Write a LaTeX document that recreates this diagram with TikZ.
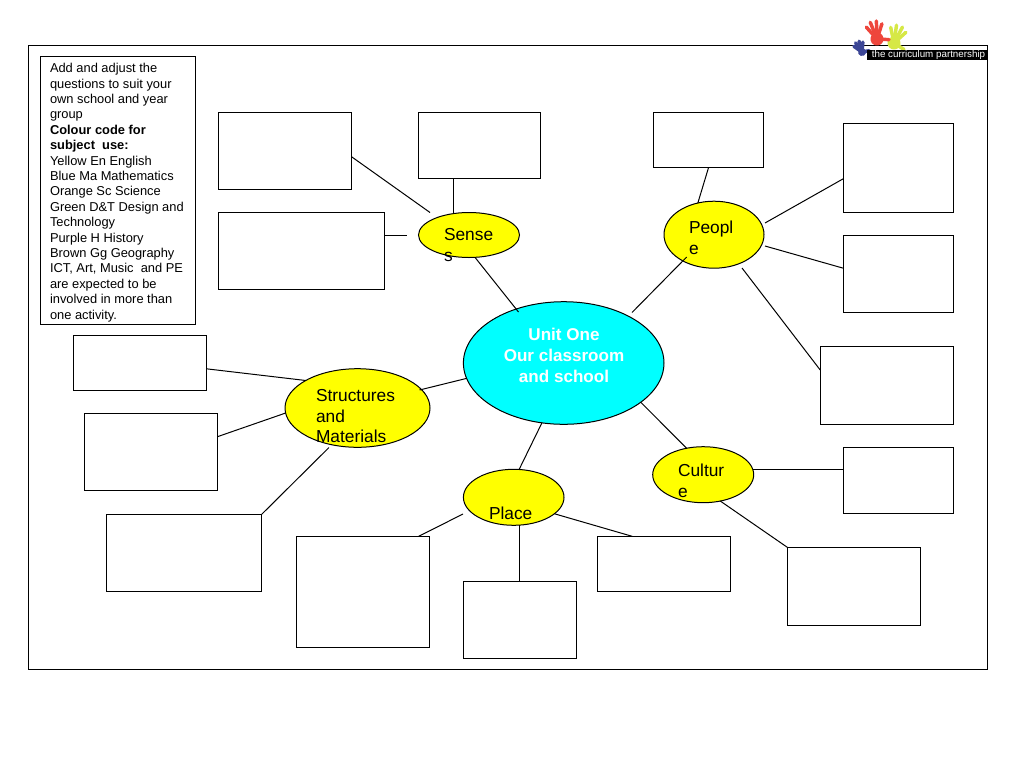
\documentclass[tikz,border=0pt]{standalone}
\usepackage{fontspec}
\setmainfont{Liberation Sans}
\usetikzlibrary{shapes.geometric}
\definecolor{topicyellow}{RGB}{255,255,0}
\definecolor{hubcyan}{RGB}{0,255,255}
\definecolor{handred}{RGB}{238,70,60}
\definecolor{handyellow}{RGB}{214,232,70}
\definecolor{handblue}{RGB}{60,70,150}
\tikzset{
  blank/.style 2 args={draw=black,line width=.75pt,fill=white,rectangle,inner sep=0pt,outer sep=0pt,minimum width=#1*.75pt-.45pt,minimum height=#2*.75pt-.45pt},
  topic/.style 2 args={draw=black,line width=.75pt,fill=topicyellow,ellipse,inner sep=0pt,outer sep=0pt,minimum width=#1*.75pt,minimum height=#2*.75pt},
  hub/.style 2 args={draw=black,line width=.75pt,fill=hubcyan,ellipse,inner sep=0pt,outer sep=0pt,minimum width=#1*.75pt,minimum height=#2*.75pt},
  link/.style={draw=black,line width=.75pt},
  toplabel/.style={inner sep=0pt,outer sep=0pt,anchor=base west,align=left,font=\fontsize{13}{15.4}\selectfont},
  fingers/.pic={
    \begin{scope}[yscale=-1]
    \fill (0,0) ellipse (6.5 and 6.5);
    \foreach \a/\l in {-30/16,-10/18,10/18,30/16}{\draw[line width=2.6pt,line cap=round] (0,0) -- ++(90+\a:\l);}
    \draw[line width=2.6pt,line cap=round] (0,0) -- ++(-15:12);
    \end{scope}
  }
}
\begin{document}
\begin{tikzpicture}[x=.75pt,y=-.75pt]
\path[use as bounding box,fill=white] (0,0) rectangle (1024,768);
\node[blank={960}{625}] (frame) at (508,357.5) {};
\node[blank={156}{269}] (legend) at (118,190.5) {};
\node[inner sep=0pt,outer sep=0pt,anchor=base west,align=left,font=\fontsize{9.65}{11.55}\selectfont] (legendtext) at (50,319) {Add and adjust the\\questions to suit your\\own school and year\\group\\\textbf{Colour code for}\\\textbf{subject\ \ use:}\\Yellow En English\\Blue Ma Mathematics\\Orange Sc Science\\Green D\&T Design and\\Technology\\Purple H History\\Brown Gg Geography\\ICT, Art, Music\ \ and PE\\are expected to be\\involved in more than\\one activity.};
% boxes
\node[blank={134}{78}] (boxa) at (285,151) {};
\node[blank={123}{67}] (boxb) at (479.5,145.5) {};
\node[blank={167}{78}] (boxc) at (301.5,251) {};
\node[blank={111}{56}] (boxd) at (708.5,140) {};
\node[blank={111}{90}] (boxe) at (898.5,168) {};
\node[blank={111}{78}] (boxf) at (898.5,274) {};
\node[blank={134}{79}] (boxg) at (887,385.5) {};
\node[blank={111}{67}] (boxh) at (898.5,480.5) {};
\node[blank={134}{79}] (boxi) at (854,586.5) {};
\node[blank={134}{112}] (boxj) at (363,592) {};
\node[blank={114}{78}] (boxk) at (520,620) {};
\node[blank={134}{56}] (boxl) at (664,564) {};
\node[blank={134}{56}] (boxm) at (140,363) {};
\node[blank={134}{78}] (boxn) at (151,452) {};
\node[blank={156}{78}] (boxo) at (184,553) {};
% ellipses
\node[hub={200.6}{122.6}] (unit) at (563.7,363) {};
\node[topic={101}{45}] (sense) at (469,235) {};
\node[topic={100}{67}] (people) at (714,234.7) {};
\node[topic={145}{78.6}] (struct) at (357.5,408) {};
\node[topic={100.6}{56}] (place) at (513.7,497.3) {};
\node[topic={101}{56}] (culture) at (703.2,474.7) {};
% free connector ends
\coordinate (senseA) at (430,212.5);
\coordinate (senseC) at (407,235);
\coordinate (unitS) at (518.5,312);
\coordinate (unitP) at (632,312.5);
\coordinate (peopleU) at (686.7,257);
\coordinate (peopleE) at (765,223);
\coordinate (peopleF) at (765,246);
\coordinate (peopleG) at (742,268);
\coordinate (structU) at (419.5,390);
\coordinate (structO) at (329,447.5);
\coordinate (placeJ) at (463,514);
% connectors
\draw[link] (boxa.-5.1) -- (senseA);
\draw[link] (sense.125.9 |- boxb.south) -- (sense.125.9);
\draw[link] (senseC -| boxc.east) -- (senseC);
\draw[link] (sense.-75) -- (unitS);
\draw[link] (boxd.south) -- (people.117.6);
\draw[link] (boxe.191.2) -- (peopleE);
\draw[link] (boxf.174.4) -- (peopleF);
\draw[link] (boxg.167) -- (peopleG);
\draw[link] (unitP) -- (peopleU);
\draw[link] (boxm.-5.1) -- (struct.152.4);
\draw[link] (boxn.13.4) -- (struct.184.3);
\draw[link] (boxo.north east) -- (structO);
\draw[link] (structU) -- (unit.189.4);
\draw[link] (unit.-110.2) -- (place.79);
\draw[link] (placeJ) -- (boxj.45.5);
\draw[link] (place.-79) -- (place.-79 |- boxk.north);
\draw[link] (place.-22.6) -- (boxl.139.7);
\draw[link] (unit.-27) -- (culture.122.3);
\draw[link] (culture.6.6) -- (culture.6.6 -| boxh.west);
\draw[link] (culture.-57.5) -- (boxi.north west);
% labels
\node[inner sep=0pt,outer sep=0pt,anchor=base,align=center,text=white,font=\fontsize{12.8}{15.4}\selectfont\bfseries] (unitlabel) at (564,382) {Unit One\\Our classroom\\and school};
\node[toplabel] (senselabel) at (444,261) {Sense\\s};
\node[toplabel] (peoplelabel) at (689,254) {Peopl\\e};
\node[toplabel] (structlabel) at (316,442.7) {Structures\\and\\Materials};
\node[toplabel] (placelabel) at (489,519) {Place};
\node[toplabel] (culturelabel) at (678,497) {Cultur\\e};
% logo
\begin{scope}[color=handyellow,draw=handyellow,fill=handyellow]
\pic[rotate=-18,transform shape] at (894,43) {fingers};
\end{scope}
\begin{scope}[color=handred,draw=handred,fill=handred]
\pic[rotate=12,transform shape] at (877,39) {fingers};
\end{scope}
\begin{scope}[color=handblue,draw=handblue,fill=handblue]
\pic[rotate=25,scale=.62,transform shape] at (862,52) {fingers};
\end{scope}
\node[fill=black,inner sep=0pt,outer sep=0pt,minimum width=121*.75pt,minimum height=10*.75pt] (logobar) at (927.5,55) {};
\node[inner sep=0pt,outer sep=0pt,text=white,font=\fontsize{7.35}{8}\selectfont] (logotext) at (928.5,55) {the curriculum partnership};
\end{tikzpicture}
\end{document}
